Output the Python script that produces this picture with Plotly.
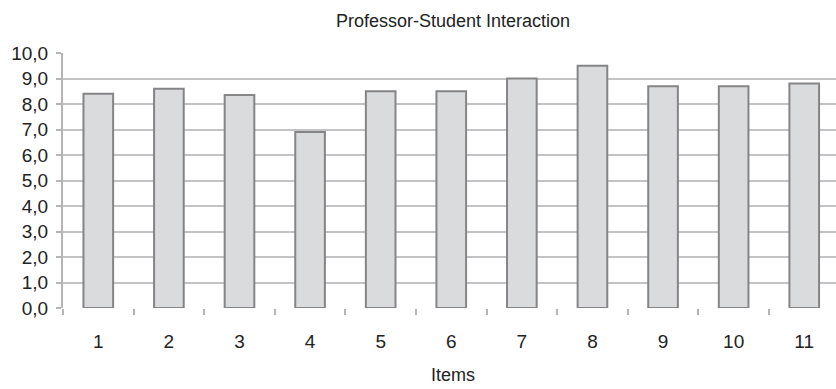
import plotly.graph_objects as go

# Mean score per questionnaire item
items = ["1", "2", "3", "4", "5", "6", "7", "8", "9", "10", "11"]
scores = [8.4, 8.6, 8.35, 6.9, 8.5, 8.5, 9.0, 9.5, 8.7, 8.7, 8.8]
y_ticks = [0, 1, 2, 3, 4, 5, 6, 7, 8, 9, 10]

FONT = "Liberation Sans Narrow, Arial Narrow, Liberation Sans, sans-serif"
GRID = "#c3c3c5"
AXIS = "#b5b5b8"

fig = go.Figure(
    go.Bar(
        x=items,
        y=scores,
        width=0.42,
        marker=dict(color="#dadbdd", line=dict(color="#858587", width=2)),
    )
)

fig.update_layout(
    width=836,
    height=389,
    margin=dict(l=63, r=0, t=53, b=81),
    paper_bgcolor="white",
    plot_bgcolor="white",
    separators=",.",
    showlegend=False,
    font=dict(family=FONT, size=19, color="#222222"),
    annotations=[
        dict(text="Professor-Student Interaction", xref="paper", yref="paper",
             x=0.505, y=1.0, yshift=44, showarrow=False,
             font=dict(family=FONT, size=18, color="#222222")),
        dict(text="Items", xref="paper", yref="paper",
             x=0.505, y=0.0, yshift=-79, showarrow=False,
             font=dict(family=FONT, size=18, color="#222222")),
    ],
)

fig.update_xaxes(
    type="category",
    range=[-0.5, 10.45],
    tickson="boundaries",
    ticks="outside",
    ticklen=6,
    tickwidth=2,
    tickcolor=AXIS,
    showgrid=False,
    showline=False,
    zeroline=False,
    ticklabelstandoff=20,
    tickfont=dict(family=FONT, size=19, color="#222222"),
)

fig.update_yaxes(
    range=[0, 10],
    tickvals=y_ticks,
    tickformat=".1f",
    ticks="outside",
    ticklen=5,
    tickwidth=2,
    tickcolor=AXIS,
    showgrid=True,
    gridcolor=GRID,
    gridwidth=2,
    showline=True,
    linecolor=AXIS,
    linewidth=2,
    zeroline=False,
    ticklabelstandoff=4,
    tickfont=dict(family=FONT, size=19, color="#222222"),
)

fig.write_html("out.html")
